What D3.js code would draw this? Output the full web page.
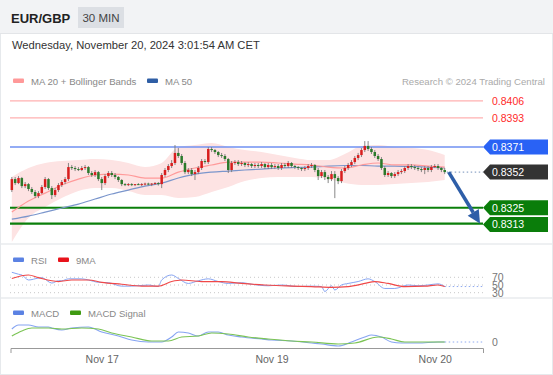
<!DOCTYPE html>
<html lang="en">
<head>
<meta charset="UTF-8">
<title>EUR/GBP 30 MIN</title>
<style>
  html, body { margin: 0; padding: 0; background: #fff; overflow: hidden; }
  svg { display: block; font-family: 'Liberation Sans', Arial, sans-serif; }
</style>
</head>
<body>
<script src="https://cdn.jsdelivr.net/npm/d3@7"></script>
<script>
const width = 553
const height = 375

// 30 min candles, [open, high, low, close]
const candles = [
  [.83384,.83483,.83369,.83467],[.83467,.83483,.83422,.83437],[.83437,.83490,.83429,.83475],[.83475,.83483,.83399,.83414],
  [.83414,.83445,.83399,.83429],[.83429,.83437,.83376,.83392],[.83392,.83407,.83354,.83369],[.83369,.83384,.83323,.83339],
  [.83339,.83376,.83323,.83361],[.83361,.83422,.83354,.83407],[.83407,.83483,.83392,.83467],[.83467,.83475,.83384,.83399],
  [.83399,.83414,.83316,.83346],[.83346,.83399,.83331,.83384],[.83384,.83437,.83369,.83422],[.83422,.83460,.83407,.83445],
  [.83445,.83483,.83429,.83467],[.83467,.83589,.83452,.83558],[.83558,.83574,.83536,.83551],[.83551,.83566,.83528,.83543],
  [.83543,.83558,.83528,.83536],[.83536,.83566,.83528,.83551],[.83551,.83574,.83536,.83558],[.83558,.83566,.83498,.83513],
  [.83513,.83528,.83483,.83498],[.83498,.83536,.83483,.83520],[.83520,.83528,.83452,.83467],[.83467,.83483,.83384,.83437],
  [.83437,.83505,.83422,.83490],[.83490,.83528,.83475,.83513],[.83513,.83528,.83483,.83498],[.83498,.83513,.83467,.83483],
  [.83483,.83490,.83445,.83460],[.83460,.83467,.83414,.83429],[.83429,.83437,.83414,.83422],[.83422,.83437,.83414,.83429],
  [.83429,.83437,.83414,.83422],[.83422,.83429,.83414,.83429],[.83429,.83437,.83422,.83425],[.83425,.83437,.83414,.83429],
  [.83429,.83440,.83418,.83433],[.83433,.83440,.83420,.83426],[.83426,.83437,.83414,.83433],[.83433,.83445,.83422,.83437],
  [.83437,.83445,.83418,.83429],[.83429,.83513,.83399,.83498],[.83498,.83551,.83483,.83536],[.83536,.83581,.83520,.83566],
  [.83566,.83611,.83551,.83589],[.83589,.83725,.83574,.83665],[.83665,.83702,.83627,.83642],[.83642,.83657,.83574,.83589],
  [.83589,.83604,.83505,.83520],[.83520,.83551,.83505,.83536],[.83536,.83551,.83490,.83505],[.83505,.83536,.83460,.83520],
  [.83520,.83566,.83505,.83551],[.83551,.83619,.83536,.83604],[.83604,.83619,.83581,.83596],[.83596,.83710,.83581,.83695],
  [.83695,.83710,.83672,.83687],[.83687,.83695,.83657,.83672],[.83672,.83680,.83634,.83649],[.83649,.83665,.83627,.83642],
  [.83642,.83657,.83604,.83619],[.83619,.83627,.83513,.83536],[.83536,.83604,.83520,.83589],[.83589,.83611,.83574,.83596],
  [.83596,.83611,.83566,.83581],[.83581,.83604,.83566,.83589],[.83589,.83596,.83558,.83574],[.83574,.83596,.83558,.83581],
  [.83581,.83589,.83551,.83566],[.83566,.83589,.83551,.83574],[.83574,.83589,.83551,.83566],[.83566,.83596,.83551,.83581],
  [.83581,.83589,.83543,.83558],[.83558,.83589,.83543,.83574],[.83574,.83589,.83543,.83558],[.83558,.83581,.83543,.83566],
  [.83566,.83581,.83536,.83551],[.83551,.83589,.83536,.83574],[.83574,.83589,.83551,.83566],[.83566,.83604,.83551,.83589],
  [.83589,.83596,.83551,.83566],[.83566,.83574,.83543,.83558],[.83558,.83566,.83536,.83551],[.83551,.83558,.83528,.83543],
  [.83543,.83566,.83528,.83551],[.83551,.83581,.83536,.83566],[.83566,.83589,.83551,.83574],[.83574,.83581,.83520,.83536],
  [.83536,.83551,.83460,.83490],[.83490,.83536,.83475,.83520],[.83520,.83536,.83460,.83483],[.83483,.83498,.83437,.83467],
  [.83467,.83528,.83452,.83505],[.83505,.83528,.83323,.83475],[.83475,.83490,.83429,.83452],[.83452,.83543,.83437,.83528],
  [.83528,.83566,.83513,.83551],[.83551,.83589,.83536,.83574],[.83574,.83611,.83558,.83596],[.83596,.83642,.83581,.83627],
  [.83627,.83665,.83611,.83649],[.83649,.83702,.83634,.83687],[.83687,.83755,.83672,.83718],[.83718,.83755,.83680,.83695],
  [.83695,.83710,.83657,.83672],[.83672,.83687,.83627,.83642],[.83642,.83657,.83604,.83619],[.83619,.83634,.83536,.83551],
  [.83551,.83566,.83483,.83498],[.83498,.83528,.83483,.83513],[.83513,.83520,.83475,.83490],[.83490,.83520,.83475,.83505],
  [.83505,.83536,.83490,.83520],[.83520,.83543,.83505,.83528],[.83528,.83566,.83513,.83551],[.83551,.83581,.83536,.83566],
  [.83566,.83581,.83543,.83558],[.83558,.83574,.83536,.83551],[.83551,.83566,.83528,.83543],[.83543,.83558,.83520,.83536],
  [.83536,.83566,.83505,.83551],[.83551,.83566,.83520,.83536],[.83536,.83574,.83520,.83558],[.83558,.83581,.83551,.83566],
  [.83566,.83581,.83536,.83551],[.83551,.83558,.83520,.83536],[.83536,.83551,.83505,.83520]
]

// x axis labels (bar index where the day label sits)
const dayTicks = [27, 78, 127]
const dayLabels = ['Nov 17', 'Nov 19', 'Nov 20']

// key levels
const resistances = [0.8406, 0.8393]
const pivot = 0.8371
const lastPrice = 0.8352
const supports = [0.8325, 0.8313]
const target = 0.8313

// moving averages / bollinger, sampled on bar index
const maIdx = [0,5,10,15,20,25,30,35,40,45,50,55,60,65,70,75,80,85,90,95,100,105,110,115,120,125,130]
const ma20 = [.83217,.83301,.83361,.83422,.83467,.83498,.83505,.83498,.83475,.83475,.83520,.83551,.83574,.83596,.83596,.83596,.83589,.83581,.83574,.83558,.83551,.83574,.83589,.83574,.83574,.83566,.83558]
const bbUpper = [.83483,.83551,.83589,.83604,.83611,.83619,.83611,.83589,.83558,.83589,.83710,.83725,.83740,.83710,.83687,.83672,.83649,.83627,.83611,.83611,.83657,.83718,.83725,.83710,.83702,.83687,.83649]
const bbLower = [.82990,.83172,.83255,.83323,.83376,.83399,.83399,.83376,.83346,.83346,.83323,.83331,.83369,.83407,.83452,.83475,.83483,.83483,.83483,.83467,.83437,.83422,.83422,.83429,.83437,.83445,.83460]
const ma50 = [.83164,.83187,.83217,.83248,.83278,.83316,.83354,.83384,.83414,.83437,.83475,.83505,.83520,.83528,.83536,.83543,.83551,.83555,.83558,.83566,.83570,.83570,.83566,.83566,.83562,.83558,.83551]

// RSI and its 9 period MA
const rsiIdx = [0,2,3,5,8,9,12,14,15,17,21,23,26,29,33,36,41,44,45,48,50,53,56,59,62,65,69,72,77,81,86,90,93,94,96,97,99,101,104,107,109,112,115,119,122,125,128,130]
const rsi = [83,78,76,63,68,69,55,61,61,66,66,63,57,56,47,47,50,46,63,76,67,54,61,66,59,54,56,52,48,50,46,47,46,33,48,37,50,54,59,66,59,41,41,50,48,50,53,46]
const rsiMaIdx = [0,5,8,14,18,23,27,33,39,44,48,51,57,63,69,76,81,84,90,96,101,106,109,113,118,124,128,130]
const rsiMa = [67,76,69,59,63,63,57,52,47,47,59,63,59,59,54,50,48,47,46,44,46,54,59,54,46,47,50,46]
const rsiLevels = [70, 50, 30]

// MACD
const macdIdx = [0,2,5,8,11,12,15,18,23,27,32,36,41,45,48,50,53,56,59,62,65,69,75,78,84,90,93,98,102,106,108,111,114,117,122,128,130]
const macd = [.00013,.00017,.00017,.00015,.00015,.00014,.00012,.00014,.00015,.00010,.00006,.00002,0,0,.00005,.00010,.00009,.00006,.00010,.00010,.00007,.00005,.00003,.00002,.00001,-.00001,-.00002,-.00004,0,.00005,.00007,.00005,0,-.00001,-.00001,0,0]
const signalIdx = [0,3,6,11,15,21,26,30,36,42,47,51,56,60,65,71,77,84,90,98,103,110,114,118,124,130]
const signal = [.00006,.00011,.00014,.00014,.00013,.00014,.00013,.00009,.00005,.00001,.00001,.00005,.00006,.00009,.00008,.00005,.00003,.00001,0,-.00002,-.00001,.00005,.00003,0,0,0]

const zip = (idx, vals) => idx.map((i, k) => ({ i: i, v: vals[k] }))

const svg = d3.select('body')
    .append('svg')
    .attr('width', width)
    .attr('height', height)

// frame + header
svg.append('rect')
    .attr('x', 0.5).attr('y', 0.5)
    .attr('width', width - 1).attr('height', height - 1)
    .attr('fill', '#fff')
    .attr('stroke', '#e6e9ec')
svg.append('rect')
    .attr('x', 0).attr('y', 0)
    .attr('width', width).attr('height', 33)
    .attr('fill', '#f2f3f5')
svg.append('line')
    .attr('x1', 0).attr('x2', width)
    .attr('y1', 33.5).attr('y2', 33.5)
    .attr('stroke', '#e3e5e8')
svg.append('text')
    .attr('x', 11).attr('y', 23)
    .attr('font-size', 13).attr('font-weight', 'bold')
    .attr('fill', '#222')
    .text('EUR/GBP')
svg.append('rect')
    .attr('x', 78).attr('y', 7)
    .attr('width', 46).attr('height', 21)
    .attr('fill', '#dcdfe4')
svg.append('text')
    .attr('x', 101).attr('y', 21.5)
    .attr('text-anchor', 'middle')
    .attr('font-size', 11.5).attr('fill', '#444')
    .text('30 MIN')
svg.append('text')
    .attr('x', 12).attr('y', 48.5)
    .attr('font-size', 11.2).attr('fill', '#333')
    .text('Wednesday, November 20, 2024 3:01:54 AM CET')

// panel separators
;[244, 298].forEach(yy => {
    svg.append('line')
        .attr('x1', 1).attr('x2', width - 1)
        .attr('y1', yy).attr('y2', yy)
        .attr('stroke', '#eef0f2').attr('stroke-width', 2)
})

const x = d3.scaleLinear()
    .domain([-0.4, 141.5])
    .range([10.5, 483])

const y = d3.scaleLinear()
    .domain([0.8313, 0.8406])
    .range([223.6, 100.8])

const rsiY = d3.scaleLinear()
    .domain([30, 70])
    .range([292.7, 277.3])

const macdY = d3.scaleLinear()
    .domain([-0.0001, 0.0002])
    .range([352, 322])

// clip paths
const defs = svg.append('defs')
defs.append('clipPath').attr('id', 'clipMain')
    .append('rect').attr('x', 10).attr('y', 90).attr('width', 474).attr('height', 153)
defs.append('clipPath').attr('id', 'clipRsi')
    .append('rect').attr('x', 0).attr('y', 246).attr('width', width).attr('height', 51)

// legends
function legend(items, yy) {
    let xx = 13
    items.forEach(it => {
        svg.append('rect')
            .attr('x', xx).attr('y', yy - 2.5)
            .attr('width', 11).attr('height', 4.5)
            .attr('rx', 1)
            .attr('fill', it.color)
        svg.append('text')
            .attr('x', xx + 18).attr('y', yy + 3.5)
            .attr('font-size', 9.6).attr('fill', '#888')
            .text(it.label)
        xx = it.next
    })
}
legend([
    { color: '#f99', label: 'MA 20 + Bollinger Bands', next: 147 },
    { color: '#2f5ea5', label: 'MA 50', next: 0 }
], 81)
legend([
    { color: '#5b82e3', label: 'RSI', next: 58 },
    { color: '#e8131b', label: '9MA', next: 0 }
], 260)
legend([
    { color: '#5b82e3', label: 'MACD', next: 70 },
    { color: '#3f9a12', label: 'MACD Signal', next: 0 }
], 313)

svg.append('text')
    .attr('x', 545).attr('y', 84.5)
    .attr('text-anchor', 'end')
    .attr('font-size', 9.6).attr('fill', '#aaa')
    .text('Research \u00a9 2024 Trading Central')

// ---------- main price panel
const main = svg.append('g').attr('clip-path', 'url(#clipMain)')

const bandData = maIdx.map((i, k) => ({ i: i, hi: bbUpper[k], lo: bbLower[k] }))
main.append('path')
    .datum(bandData)
    .attr('fill', '#fde3e3')
    .attr('d', d3.area()
        .x(d => x(d.i))
        .y0(d => y(d.lo))
        .y1(d => y(d.hi))
        .curve(d3.curveMonotoneX))

const lineGen = (sy) => d3.line()
    .x(d => x(d.i))
    .y(d => sy(d.v))
    .curve(d3.curveMonotoneX)

// level lines
resistances.forEach(v => {
    main.append('line')
        .attr('x1', 10).attr('x2', 483)
        .attr('y1', y(v)).attr('y2', y(v))
        .attr('stroke', '#ffb0b0').attr('stroke-width', 1.2)
})
main.append('line')
    .attr('x1', 10).attr('x2', 483)
    .attr('y1', y(pivot)).attr('y2', y(pivot))
    .attr('stroke', '#6f91f2').attr('stroke-width', 1.4)
supports.forEach(v => {
    main.append('line')
        .attr('x1', 10).attr('x2', 483)
        .attr('y1', y(v)).attr('y2', y(v))
        .attr('stroke', '#0b7f0b').attr('stroke-width', 2.2)
})

main.append('path')
    .datum(zip(maIdx, ma50))
    .attr('fill', 'none')
    .attr('stroke', '#7b96cc').attr('stroke-width', 1.2)
    .attr('d', lineGen(y))
main.append('path')
    .datum(zip(maIdx, ma20))
    .attr('fill', 'none')
    .attr('stroke', '#ff9a9a').attr('stroke-width', 1.2)
    .attr('d', lineGen(y))

// candles
const candle = main.selectAll('.candle')
    .data(candles)
    .enter()
    .append('g')
    .attr('class', 'candle')
candle.append('line')
    .attr('x1', (d, i) => x(i)).attr('x2', (d, i) => x(i))
    .attr('y1', d => y(d[1])).attr('y2', d => y(d[2]))
    .attr('stroke', '#7a7a7a').attr('stroke-width', 0.9)
candle.append('rect')
    .attr('x', (d, i) => x(i) - 1.25)
    .attr('width', 2.5)
    .attr('y', d => y(Math.max(d[0], d[3])))
    .attr('height', d => Math.max(1, Math.abs(y(d[0]) - y(d[3]))))
    .attr('fill', d => d[3] >= d[0] ? '#d81e1e' : '#2b7a2b')

// last price dotted extension
const lastI = candles.length - 1
main.append('line')
    .attr('x1', x(lastI) + 2).attr('x2', 483)
    .attr('y1', y(lastPrice)).attr('y2', y(lastPrice))
    .attr('stroke', '#8fa6c8').attr('stroke-width', 1.2)
    .attr('stroke-dasharray', '1.5,2.5')

// forecast arrow
const ax1 = x(lastI) + 4, ay1 = y(candles[lastI][3])
const ax2 = x(140.6), ay2 = y(target)
const ang = Math.atan2(ay2 - ay1, ax2 - ax1)
const headLen = 13, headW = 6.5
const bx = ax2 - headLen * Math.cos(ang), by = ay2 - headLen * Math.sin(ang)
svg.append('line')
    .attr('x1', ax1).attr('y1', ay1)
    .attr('x2', bx).attr('y2', by)
    .attr('stroke', '#2e5ea8').attr('stroke-width', 3.5)
svg.append('path')
    .attr('fill', '#2e5ea8')
    .attr('d', `M${ax2},${ay2} L${bx + headW * Math.sin(ang)},${by - headW * Math.cos(ang)} L${bx - headW * Math.sin(ang)},${by + headW * Math.cos(ang)} Z`)

// level labels on the right
resistances.forEach(v => {
    svg.append('text')
        .attr('x', 492).attr('y', y(v) + 3.8)
        .attr('font-size', 10.5).attr('fill', '#ff2a2a')
        .text(v.toFixed(4))
})
function tag(v, color, yc) {
    const top = yc - 7.5, bot = yc + 7.5
    svg.append('path')
        .attr('fill', color)
        .attr('d', `M483,${yc} L490,${top} L548,${top} L548,${bot} L490,${bot} Z`)
    svg.append('text')
        .attr('x', 492).attr('y', yc + 3.8)
        .attr('font-size', 10.5).attr('fill', '#fff')
        .text(v.toFixed(4))
}
tag(pivot, '#2962f5', y(pivot))
tag(lastPrice, '#333333', y(lastPrice))
tag(supports[0], '#0a7d0a', y(supports[0]))
tag(supports[1], '#0a7d0a', y(supports[1]) + 1)

// ---------- RSI panel
const rsiG = svg.append('g').attr('clip-path', 'url(#clipRsi)')
rsiLevels.forEach(v => {
    rsiG.append('line')
        .attr('x1', 10).attr('x2', 483)
        .attr('y1', rsiY(v)).attr('y2', rsiY(v))
        .attr('stroke', '#c8c8c8').attr('stroke-dasharray', '1,3')
    rsiG.append('text')
        .attr('x', 492).attr('y', rsiY(v) + 4)
        .attr('font-size', 10.5).attr('fill', '#777')
        .text(v)
})
rsiG.append('line')
    .attr('x1', x(lastI)).attr('x2', 483)
    .attr('y1', rsiY(rsi[rsi.length - 1])).attr('y2', rsiY(rsi[rsi.length - 1]))
    .attr('stroke', '#8faaf0').attr('stroke-dasharray', '1.5,2.5')
rsiG.append('path')
    .datum(zip(rsiIdx, rsi))
    .attr('fill', 'none')
    .attr('stroke', '#86a4f2').attr('stroke-width', 1)
    .attr('d', lineGen(rsiY))
rsiG.append('path')
    .datum(zip(rsiMaIdx, rsiMa))
    .attr('fill', 'none')
    .attr('stroke', '#f04848').attr('stroke-width', 1.2)
    .attr('d', lineGen(rsiY))

// ---------- MACD panel
svg.append('line')
    .attr('x1', x(lastI)).attr('x2', 483)
    .attr('y1', macdY(0)).attr('y2', macdY(0))
    .attr('stroke', '#8faaf0').attr('stroke-dasharray', '1.5,2.5')
svg.append('text')
    .attr('x', 492).attr('y', macdY(0) + 3.5)
    .attr('font-size', 10.5).attr('fill', '#777')
    .text('0')
svg.append('path')
    .datum(zip(macdIdx, macd))
    .attr('fill', 'none')
    .attr('stroke', '#86a4f2').attr('stroke-width', 1.1)
    .attr('d', lineGen(macdY))
svg.append('path')
    .datum(zip(signalIdx, signal))
    .attr('fill', 'none')
    .attr('stroke', '#7cc455').attr('stroke-width', 1.2)
    .attr('d', lineGen(macdY))

// x axis
const xAxis = svg.append('g')
    .attr('transform', 'translate(0, 348)')
    .call(d3.axisBottom(x)
        .tickValues(dayTicks)
        .tickFormat((d, k) => dayLabels[k])
        .tickSizeInner(0)
        .tickSizeOuter(5)
        .tickPadding(8))
xAxis.select('.domain').attr('stroke', '#999')
xAxis.selectAll('text')
    .attr('font-family', "'Liberation Sans', Arial, sans-serif")
    .attr('font-size', 10.5)
    .attr('fill', '#666')
</script>
</body>
</html>
